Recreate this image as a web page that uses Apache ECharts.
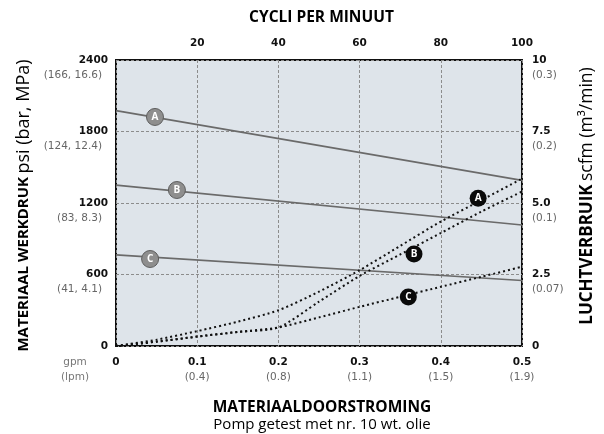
<!DOCTYPE html>
<html>
<head>
<meta charset="utf-8">
<script src="https://cdn.jsdelivr.net/npm/echarts@6/dist/echarts.min.js"></script>
<style>html,body{margin:0;padding:0;background:#fff}#c{width:604px;height:434px}</style>
</head>
<body>
<div id="c"></div>
<script>
// ---- data ----
const flowGpm = [0, 0.05, 0.1, 0.15, 0.2, 0.25, 0.3, 0.35, 0.4, 0.45, 0.5];
const airA = [0, 0.22, 0.52, 0.85, 1.25, 1.9, 2.65, 3.5, 4.35, 5.1, 5.85];
const airB = [0, 0.15, 0.33, 0.49, 0.65, 1.55, 2.45, 3.2, 3.95, 4.7, 5.4];
const airC = [0, 0.15, 0.33, 0.49, 0.65, 1.0, 1.37, 1.72, 2.07, 2.42, 2.77];

const pressureFlow = [0, 0.5];
const pressureA = [1975, 1390];
const pressureB = [1350, 1015];
const pressureC = [765, 550];

const curveNames = ['A', 'B', 'C'];
const pressureLabelFlow = [0.048, 0.075, 0.042];
const pressureLabelPsi = [1922, 1309, 730];
const airLabelFlow = [0.446, 0.367, 0.360];
const airLabelScfm = [5.17, 3.22, 1.71];

const leftTicks = ['0', '600', '1200', '1800', '2400'];
const leftSub = ['', '(41, 4.1)', '(83, 8.3)', '(124, 12.4)', '(166, 16.6)'];
const rightTicks = ['0', '2.5', '5.0', '7.5', '10'];
const rightSub = ['', '(0.07)', '(0.1)', '(0.2)', '(0.3)'];
const bottomTicks = ['0', '0.1', '0.2', '0.3', '0.4', '0.5'];
const bottomSub = ['', '(0.4)', '(0.8)', '(1.1)', '(1.5)', '(1.9)'];
const topTicks = ['', '20', '40', '60', '80', '100'];

// ---- chart ----
const pairs = (xs, ys) => xs.map((x, i) => [x, ys[i]]);
const tickFont = 'DejaVu Sans';
const richTick = {
  e: { fontSize: 10, lineHeight: 15, fontFamily: tickFont },
  b: { fontSize: 10.5, lineHeight: 15, fontWeight: 'bold', color: '#111', fontFamily: tickFont },
  g: { fontSize: 10.5, lineHeight: 15, color: '#666', fontFamily: tickFont }
};
const richLeft = {
  e: richTick.e, b: richTick.b,
  g: Object.assign({}, richTick.g, { padding: [0, 6, 0, 0] })
};
const leftTitleRich = {
  b: { fontFamily: 'Open Sans', fontWeight: 'bold', fontSize: 15, color: '#000' },
  n: { fontFamily: 'Open Sans', fontSize: 18, color: '#000' }
};
const rightTitleRich = {
  b: { fontFamily: 'Open Sans', fontWeight: 'bold', fontSize: 17, color: '#000' },
  n: { fontFamily: 'Open Sans', fontSize: 17.5, color: '#000' }
};

const chart = echarts.init(document.getElementById('c'));

const solidSeries = [pressureA, pressureB, pressureC].map((ys, i) => ({
  type: 'line', xAxisIndex: 0, yAxisIndex: 0, name: 'P' + curveNames[i],
  data: pairs(pressureFlow, ys), symbol: 'none', silent: true,
  lineStyle: { color: '#6a6a6a', width: 1.6 }, z: 3
}));
const dottedSeries = [airA, airB, airC].map((ys, i) => ({
  type: 'line', xAxisIndex: 0, yAxisIndex: 1, name: 'L' + curveNames[i],
  data: pairs(flowGpm, ys), symbol: 'none', smooth: 0.25, silent: true,
  lineStyle: { color: '#111', width: 2, type: [2, 3] }, z: 4
}));

const markerLabel = {
  show: true, position: 'inside', formatter: p => p.data[2],
  color: '#fff', fontWeight: 'bold', fontSize: 10, fontFamily: 'Open Sans'
};

chart.setOption({
  animation: false,
  grid: { left: 116, right: 81, top: 60, bottom: 88, show: true,
          backgroundColor: '#dee4ea', borderColor: '#111', borderWidth: 2 },
  xAxis: [
    { type: 'value', position: 'bottom', min: 0, max: 0.5, interval: 0.1,
      axisLine: { show: false }, axisTick: { show: false },
      splitLine: { show: true, lineStyle: { color: '#8c8c8c', type: [3, 2], width: 1 } },
      axisLabel: {
        margin: 9,
        formatter: v => {
          const i = Math.round(v / 0.1);
          return bottomSub[i] ? '{b|' + bottomTicks[i] + '}\n{g|' + bottomSub[i] + '}' : '{b|' + bottomTicks[i] + '}';
        },
        rich: richTick
      }
    },
    { type: 'value', position: 'top', min: 0, max: 100, interval: 20,
      axisLine: { show: false }, axisTick: { show: false }, splitLine: { show: false },
      axisLabel: { margin: 11, formatter: v => topTicks[Math.round(v / 20)],
        fontWeight: 'bold', fontSize: 10.5, color: '#111', fontFamily: tickFont },
      name: 'CYCLI PER MINUUT', nameLocation: 'middle', nameGap: 34,
      nameTextStyle: { fontFamily: 'Open Sans', fontWeight: 'bold', fontSize: 15.5, color: '#000', padding: [0, 0, 0, 5] }
    }
  ],
  yAxis: [
    { type: 'value', position: 'left', min: 0, max: 2400, interval: 600,
      axisLine: { show: false }, axisTick: { show: false },
      splitLine: { show: true, lineStyle: { color: '#8c8c8c', type: [3, 2], width: 1 } },
      axisLabel: {
        margin: 8, align: 'right',
        formatter: v => {
          const i = Math.round(v / 600);
          return leftSub[i] ? '{e| }\n{b|' + leftTicks[i] + '}\n{g|' + leftSub[i] + '}' : '{b|' + leftTicks[i] + '}';
        },
        rich: richLeft
      },
      name: '{b|MATERIAAL WERKDRUK} {n|psi (bar, MPa)}', nameLocation: 'middle', nameRotate: 90, nameGap: 82,
      nameTextStyle: { rich: leftTitleRich, padding: [0, 5, 0, 0] }
    },
    { type: 'value', position: 'right', min: 0, max: 10, interval: 2.5,
      axisLine: { show: false }, axisTick: { show: false }, splitLine: { show: false },
      axisLabel: {
        margin: 10, align: 'left',
        formatter: v => {
          const i = Math.round(v / 2.5);
          return rightSub[i] ? '{e| }\n{b|' + rightTicks[i] + '}\n{g|' + rightSub[i] + '}' : '{b|' + rightTicks[i] + '}';
        },
        rich: richTick
      },
      name: '{b|LUCHTVERBRUIK} {n|scfm (m³/min)}', nameLocation: 'middle', nameRotate: 90, nameGap: 56,
      nameTextStyle: { rich: rightTitleRich, padding: [0, 0, 0, 14] }
    }
  ],
  graphic: [
    { type: 'text', x: 322, y: 408, style: { text: 'MATERIAALDOORSTROMING', align: 'center', verticalAlign: 'middle',
      font: 'bold 15.5px "Open Sans"', fill: '#000' } },
    { type: 'text', x: 322, y: 425, style: { text: 'Pomp getest met nr. 10 wt. olie', align: 'center', verticalAlign: 'middle',
      font: '15px "Open Sans"', fill: '#000' } },
    { type: 'text', x: 75, y: 362, style: { text: 'gpm', align: 'center', verticalAlign: 'middle',
      font: '10.5px "DejaVu Sans"', fill: '#777' } },
    { type: 'text', x: 75, y: 377, style: { text: '(lpm)', align: 'center', verticalAlign: 'middle',
      font: '10.5px "DejaVu Sans"', fill: '#777' } }
  ],
  series: solidSeries.concat(dottedSeries).concat([
    { type: 'scatter', xAxisIndex: 0, yAxisIndex: 0, symbol: 'circle', symbolSize: 17, silent: true, z: 6,
      data: curveNames.map((n, i) => [pressureLabelFlow[i], pressureLabelPsi[i], n]),
      itemStyle: { color: '#8e8e8e', borderColor: '#5e5e5e', borderWidth: 1, opacity: 1 },
      label: markerLabel },
    { type: 'scatter', xAxisIndex: 0, yAxisIndex: 1, symbol: 'circle', symbolSize: 17, silent: true, z: 6,
      data: curveNames.map((n, i) => [airLabelFlow[i], airLabelScfm[i], n]),
      itemStyle: { color: '#0a0a0a', opacity: 1 },
      label: markerLabel }
  ])
});
</script>
</body>
</html>
